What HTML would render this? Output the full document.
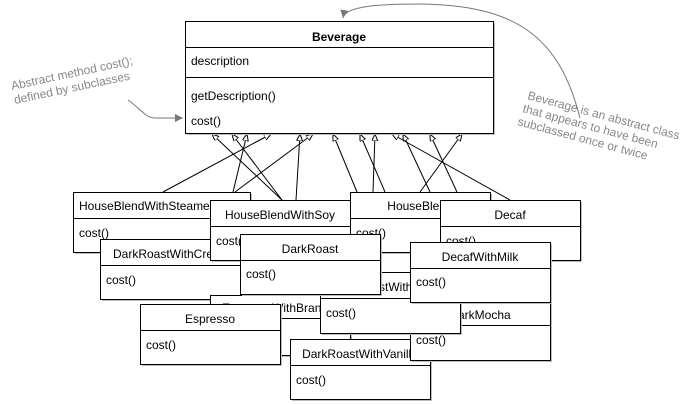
<!DOCTYPE html>
<html><head><meta charset="utf-8"><style>
html,body{margin:0;padding:0;background:#fff;width:692px;height:404px;overflow:hidden}
svg{display:block}
text{font-family:"Liberation Sans",sans-serif;font-size:12px;fill:#000}
.g{fill:#888;font-size:12px}
</style></head><body>
<svg width="692" height="404" viewBox="0 0 692 404" xmlns="http://www.w3.org/2000/svg">
<defs>
<marker id="tri" markerWidth="10" markerHeight="10" refX="7" refY="3" orient="auto" markerUnits="userSpaceOnUse">
<path d="M0,0 L7,3 L0,6 Z" fill="#fff" stroke="#000" stroke-width="1"/>
</marker>
<marker id="ga" markerWidth="10" markerHeight="10" refX="8" refY="4" orient="auto" markerUnits="userSpaceOnUse">
<path d="M0,0 L8,4 L0,8 Z" fill="#777"/>
</marker>
</defs>
<g stroke="#000" stroke-width="1" fill="none" marker-end="url(#tri)">
<line x1="163" y1="192" x2="271" y2="134"/>
<line x1="233" y1="192" x2="247" y2="134"/>
<line x1="235" y1="192" x2="313" y2="134"/>
<line x1="282" y1="200" x2="212" y2="134"/>
<line x1="282" y1="200" x2="232" y2="134"/>
<line x1="296" y1="200" x2="300" y2="134"/>
<line x1="357" y1="192" x2="333" y2="134"/>
<line x1="373" y1="192" x2="375" y2="134"/>
<line x1="385" y1="192" x2="360" y2="134"/>
<line x1="420" y1="192" x2="462" y2="134"/>
<line x1="430" y1="192" x2="403" y2="134"/>
<line x1="457" y1="192" x2="430" y2="134"/>
<line x1="510" y1="200" x2="392" y2="134"/>
</g>
<rect x="187" y="23" width="308" height="112" fill="#bbb"/>
<rect x="185.5" y="21.5" width="308" height="112" fill="#fff" stroke="#000"/>
<line x1="185" y1="47.5" x2="493" y2="47.5" stroke="#000"/>
<line x1="185" y1="77.5" x2="493" y2="77.5" stroke="#000"/>
<text x="339" y="41" text-anchor="middle" font-weight="bold">Beverage</text>
<text x="191" y="65">description</text>
<text x="191" y="100">getDescription()</text>
<text x="191" y="125">cost()</text>
<g>
<g transform="translate(73,192)"><rect x="2" y="2" width="177" height="60" fill="#bbb"/><rect x=".5" y=".5" width="177" height="60" fill="#fff" stroke="#000"/><line x1="0" y1="26.5" x2="177" y2="26.5" stroke="#000"/><text x="6" y="18">HouseBlendWithSteamedMilk</text><text x="6" y="45">cost()</text></g>
<g transform="translate(100,239)"><rect x="2" y="2" width="140" height="60" fill="#bbb"/><rect x=".5" y=".5" width="140" height="60" fill="#fff" stroke="#000"/><line x1="0" y1="26.5" x2="140" y2="26.5" stroke="#000"/><text x="13" y="19">DarkRoastWithCream</text><text x="6" y="45">cost()</text></g>
<g transform="translate(210,200)"><rect x="2" y="2" width="140" height="60" fill="#bbb"/><rect x=".5" y=".5" width="140" height="60" fill="#fff" stroke="#000"/><line x1="0" y1="26.5" x2="140" y2="26.5" stroke="#000"/><text x="70" y="19" text-anchor="middle">HouseBlendWithSoy</text><text x="6" y="45">cost()</text></g>
<g transform="translate(350,192)"><rect x="2" y="2" width="140" height="60" fill="#bbb"/><rect x=".5" y=".5" width="140" height="60" fill="#fff" stroke="#000"/><line x1="0" y1="26.5" x2="140" y2="26.5" stroke="#000"/><text x="70" y="18" text-anchor="middle">HouseBlend</text><text x="6" y="45">cost()</text></g>
<g transform="translate(440,200)"><rect x="2" y="2" width="140" height="60" fill="#bbb"/><rect x=".5" y=".5" width="140" height="60" fill="#fff" stroke="#000"/><line x1="0" y1="26.5" x2="140" y2="26.5" stroke="#000"/><text x="70" y="19" text-anchor="middle">Decaf</text><text x="6" y="45">cost()</text></g>
<g transform="translate(210,295)"><rect x="2" y="2" width="140" height="60" fill="#bbb"/><rect x=".5" y=".5" width="140" height="60" fill="#fff" stroke="#000"/><line x1="0" y1="23.5" x2="140" y2="23.5" stroke="#000"/><text x="12" y="17">EspressoWithBrandy</text><text x="6" y="42">cost()</text></g>
<g transform="translate(290,339)"><rect x="2" y="2" width="140" height="60" fill="#bbb"/><rect x=".5" y=".5" width="140" height="60" fill="#fff" stroke="#000"/><line x1="0" y1="26.5" x2="140" y2="26.5" stroke="#000"/><text x="70" y="19" text-anchor="middle">DarkRoastWithVanilla</text><text x="6" y="45">cost()</text></g>
<g transform="translate(410,300)"><rect x="2" y="2" width="140" height="60" fill="#bbb"/><rect x=".5" y=".5" width="140" height="60" fill="#fff" stroke="#000"/><line x1="0" y1="25.5" x2="140" y2="25.5" stroke="#000"/><text x="70" y="19" text-anchor="middle">DarkMocha</text><text x="6" y="44">cost()</text></g>
<g transform="translate(320,272)"><rect x="2" y="2" width="140" height="61" fill="#bbb"/><rect x=".5" y=".5" width="140" height="61" fill="#fff" stroke="#000"/><line x1="0" y1="26.5" x2="140" y2="26.5" stroke="#000"/><text x="70" y="19" text-anchor="middle">DarkRoastWithMocha</text><text x="6" y="45">cost()</text></g>
<g transform="translate(240,234)"><rect x="2" y="2" width="140" height="60" fill="#bbb"/><rect x=".5" y=".5" width="140" height="60" fill="#fff" stroke="#000"/><line x1="0" y1="26.5" x2="140" y2="26.5" stroke="#000"/><text x="70" y="19" text-anchor="middle">DarkRoast</text><text x="6" y="44">cost()</text></g>
<g transform="translate(410,242)"><rect x="2" y="2" width="140" height="60" fill="#bbb"/><rect x=".5" y=".5" width="140" height="60" fill="#fff" stroke="#000"/><line x1="0" y1="26.5" x2="140" y2="26.5" stroke="#000"/><text x="70" y="19" text-anchor="middle">DecafWithMilk</text><text x="6" y="44">cost()</text></g>
<g transform="translate(140,304)"><rect x="2" y="2" width="140" height="60" fill="#bbb"/><rect x=".5" y=".5" width="140" height="60" fill="#fff" stroke="#000"/><line x1="0" y1="26.5" x2="140" y2="26.5" stroke="#000"/><text x="70" y="19" text-anchor="middle">Espresso</text><text x="6" y="45">cost()</text></g>
</g>
<path d="M128,100 C140,108 145,118 155,118 L183,118" fill="none" stroke="#777" marker-end="url(#ga)"/>
<text class="g" transform="translate(12,90) rotate(-12)">Abstract method cost();</text>
<text class="g" transform="translate(15,104) rotate(-12)">defined by subclasses</text>
<path d="M580,118 C560,40 520,5 420,4 C380,4 345,6 343,18" fill="none" stroke="#777" marker-end="url(#ga)"/>
<text class="g" transform="translate(527,99) rotate(15)">Beverage is an abstract class</text>
<text class="g" transform="translate(522,112) rotate(15)">that appears to have been</text>
<text class="g" transform="translate(517,125) rotate(15)">subclassed once or twice</text>
</svg>
</body></html>
